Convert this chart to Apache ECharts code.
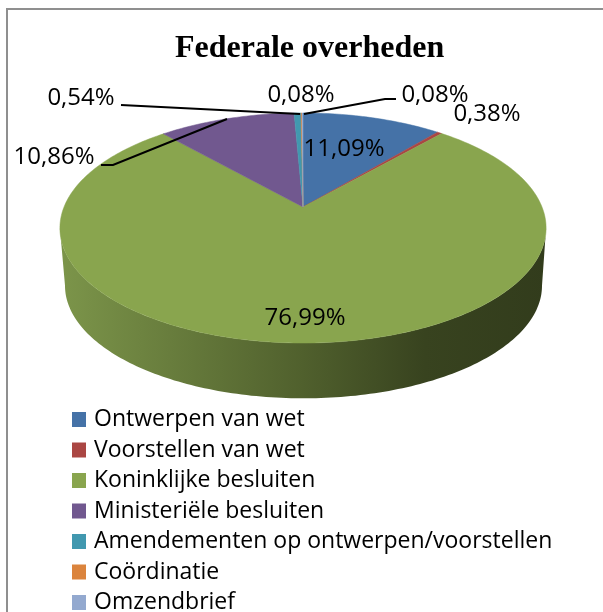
<!DOCTYPE html>
<html><head><meta charset="utf-8">
<style>html,body{margin:0;padding:0;background:#fff}#c{width:603px;height:612px}</style>
<script src="https://cdn.jsdelivr.net/npm/echarts@6/dist/echarts.min.js"></script>
</head><body><div id="c"></div>
<script>
const categories = ['Ontwerpen van wet','Voorstellen van wet','Koninklijke besluiten','Ministeriële besluiten','Amendementen op ontwerpen/voorstellen','Coördinatie','Omzendbrief'];
const values = [11.09,0.38,76.99,10.86,0.54,0.08,0.08];
const colors = ['#4572A7','#AA4643','#89A54E','#71588F','#4198AF','#DB843D','#93A9CF'];

const total = values.reduce((a,b)=>a+b,0);
const starts = values.map((_,i)=>values.slice(0,i).reduce((a,b)=>a+b,0));
const fmt = v => v.toFixed(2).replace('.',',')+'%';

// perspective projection of the pie's top and bottom circles
const topRim = {x:303,y:207,a:239,b:111.2,p:0.1826};
const botRim = {x:303.5,y:265,a:234.5,b:109,p:0.1826};
const tangent = Math.acos(-topRim.p);           // where the rim turns away from the viewer
const wallFrom = tangent, wallTo = 2*Math.PI-tangent;
function proj(r,theta){
  const u=Math.sin(theta),v=Math.cos(theta),d=1+r.p*v;
  return [r.x+r.a*u/d, r.y-r.b*v/d];
}
function arcPts(r,a0,a1){
  const n=Math.max(2,Math.ceil((a1-a0)/(Math.PI/180))), out=[];
  for(let k=0;k<=n;k++) out.push(proj(r,a0+(a1-a0)*k/n));
  return out;
}
const wallFill = new echarts.graphic.LinearGradient(0,0,1,0,[
  {offset:0,color:'#7C954A'},{offset:0.5,color:'#50602D'},{offset:0.75,color:'#38431F'},{offset:1,color:'#323C1C'}
]);
// label placement: [centre x, centre y]; leader: polyline or null
const labelLayout = [
  {at:[344,149]},
  {at:[487,114]},
  {at:[305,318]},
  {at:[54,157],leader:[[101,165],[113,165],[227,119]]},
  {at:[81,98],leader:[[121,105],[300,114]]},
  {at:[301,95]},
  {at:[435,95],leader:[[396,99],[385,99],[304,114]]}
];
const labelFont = '24px "Open Sans", Lato, sans-serif';

const series = categories.map((name,i)=>({
  type:'custom', name, coordinateSystem:'none',
  itemStyle:{color:colors[i]},
  data:[values[i]],
  renderItem(){
    const a0=starts[i]/total*2*Math.PI, a1=(starts[i]+values[i])/total*2*Math.PI;
    const top=arcPts(topRim,a0,a1);
    const L=labelLayout[i];
    const children=[
      {type:'polygon',z2:2,shape:{points:[[topRim.x,topRim.y]].concat(top)},style:{fill:colors[i],stroke:colors[i],lineWidth:0.5}},
      {type:'text',z2:5,x:L.at[0],y:L.at[1],style:{text:fmt(values[i]),font:labelFont,fill:'#000',align:'center',verticalAlign:'middle'}}
    ];
    const w0=Math.max(a0,wallFrom), w1=Math.min(a1,wallTo);
    if(w1>w0) children.unshift({type:'polygon',z2:1,shape:{points:arcPts(topRim,w0,w1).concat(arcPts(botRim,w0,w1).reverse())},style:{fill:wallFill}});
    if(L.leader) children.push({type:'polyline',z2:4,shape:{points:L.leader},style:{stroke:'#000',lineWidth:2,fill:'none'}});
    return {type:'group',children};
  }
}));

const chart = echarts.init(document.getElementById('c'),null,{renderer:'canvas'});
chart.setOption({
  animation:false,
  backgroundColor:'#fff',
  title:{text:'Federale overheden',left:170,top:28,textStyle:{fontFamily:'"Liberation Serif",serif',fontWeight:'bold',fontSize:32,color:'#000'}},
  legend:{orient:'vertical',left:67,top:403,height:320,icon:'rect',itemWidth:14,itemHeight:15,itemGap:7.5,selectedMode:false,
    textStyle:{fontFamily:'"Open Sans",Lato,sans-serif',fontSize:23,color:'#000',padding:[0,0,0,3]},
    data:categories},
  graphic:[{type:'polyline',z:-1,shape:{points:[[7,612],[7,9],[603,9]]},style:{fill:'none',stroke:'#8f8f8f',lineWidth:2}}],
  series
});
</script></body></html>
